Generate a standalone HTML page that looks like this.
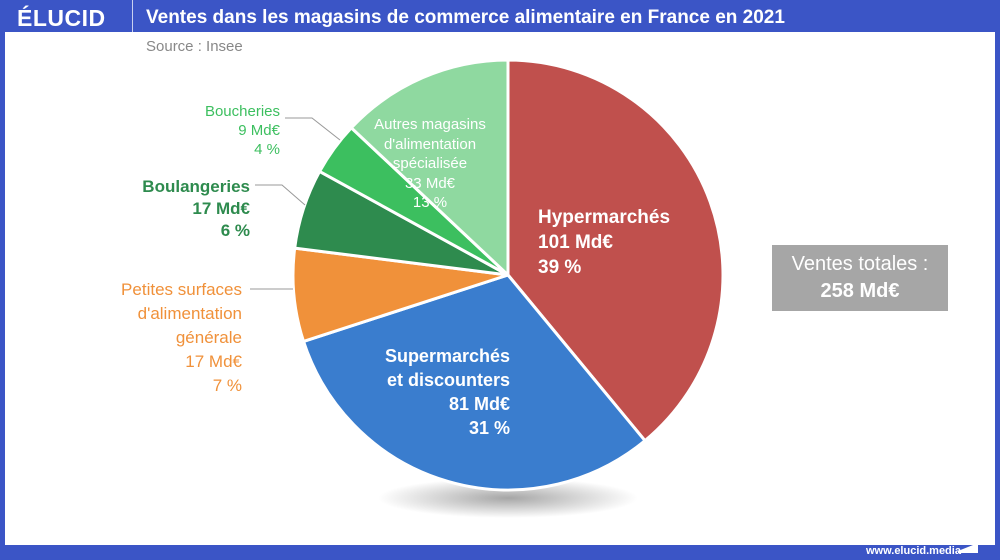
<!DOCTYPE html>
<html><head><meta charset="utf-8"><style>
body{margin:0;width:1000px;height:560px;overflow:hidden;font-family:"Liberation Sans",sans-serif;background:#3b55c6;position:relative}
.in{position:absolute;left:5px;top:32px;width:990px;height:513px;background:#fff}
.t{position:absolute;font-weight:bold}
</style></head><body>
<div class="in"></div>
<div class="t" style="left:17px;top:5px;color:#fff;font-size:23px;letter-spacing:0.5px">ÉLUCID</div>
<div style="position:absolute;left:132px;top:0;width:1px;height:32px;background:#c8d0f0"></div>
<div class="t" style="left:146px;top:7px;color:#fff;font-size:19px">Ventes dans les magasins de commerce alimentaire en France en 2021</div>
<div style="position:absolute;left:146px;top:38px;color:#888;font-size:15px">Source : Insee</div>
<div style="position:absolute;left:866px;top:545px;color:#fff;font-size:11px;font-weight:bold">www.elucid.media</div>
<svg style="position:absolute;left:0;top:0" width="1000" height="560">
<defs><radialGradient id="sh"><stop offset="0" stop-color="#000" stop-opacity="0.35"/><stop offset="1" stop-color="#000" stop-opacity="0"/></radialGradient></defs>
<ellipse cx="508" cy="498" rx="130" ry="20" fill="url(#sh)"/>
<g stroke="#fff" stroke-width="3" stroke-linejoin="round">
<path d="M508,275 L508,60 A215,215 0 0 1 645,440.7Z" fill="#c0504d"/>
<path d="M508,275 L645,440.7 A215,215 0 0 1 303.5,341.4Z" fill="#3a7dce"/>
<path d="M508,275 L303.5,341.4 A215,215 0 0 1 294.7,248.1Z" fill="#f0913a"/>
<path d="M508,275 L294.7,248.1 A215,215 0 0 1 319.6,171.4Z" fill="#2e8b4e"/>
<path d="M508,275 L319.6,171.4 A215,215 0 0 1 351.3,127.8Z" fill="#3cbf5f"/>
<path d="M508,275 L351.3,127.8 A215,215 0 0 1 508,60Z" fill="#8fd9a0"/>
</g>
<polyline points="285,118 312,118 340,140" fill="none" stroke="#999" stroke-width="1"/>
<polyline points="255,185 282,185 305,205" fill="none" stroke="#999" stroke-width="1"/>
<line x1="250" y1="289" x2="293" y2="289" stroke="#999" stroke-width="1"/>
<polygon points="958,551 978,543 978,553 958,553" fill="#fff"/>
</svg>
<div style="position:absolute;left:150px;top:102px;width:130px;text-align:right;color:#3cbf5f;font-size:15px;line-height:19px">Boucheries<br>9 Md€<br>4 %</div>
<div class="t" style="left:100px;top:176px;width:150px;text-align:right;color:#2e8b4e;font-size:17px;line-height:22px">Boulangeries<br>17 Md€<br>6 %</div>
<div class="t" style="left:40px;top:278px;width:202px;text-align:right;color:#f0913a;font-size:17px;line-height:24px;font-weight:normal">Petites surfaces<br>d'alimentation<br>générale<br>17 Md€<br>7 %</div>
<div style="position:absolute;left:355px;top:115px;width:150px;text-align:center;color:#fff;font-size:15px;line-height:19.5px">Autres magasins<br>d'alimentation<br>spécialisée<br>33 Md€<br>13 %</div>
<div class="t" style="left:538px;top:205px;color:#fff;font-size:19px;line-height:25px">Hypermarchés<br>101 Md€<br>39 %</div>
<div class="t" style="left:340px;top:344px;width:170px;text-align:right;color:#fff;font-size:18px;line-height:24px">Supermarchés<br>et discounters<br>81 Md€<br>31 %</div>
<div style="position:absolute;left:772px;top:245px;width:176px;height:66px;background:#a6a6a6;color:#fff;text-align:center;font-size:20px;line-height:27px;padding-top:6px;box-sizing:border-box">Ventes totales :<br><b>258 Md€</b></div>
</body></html>
